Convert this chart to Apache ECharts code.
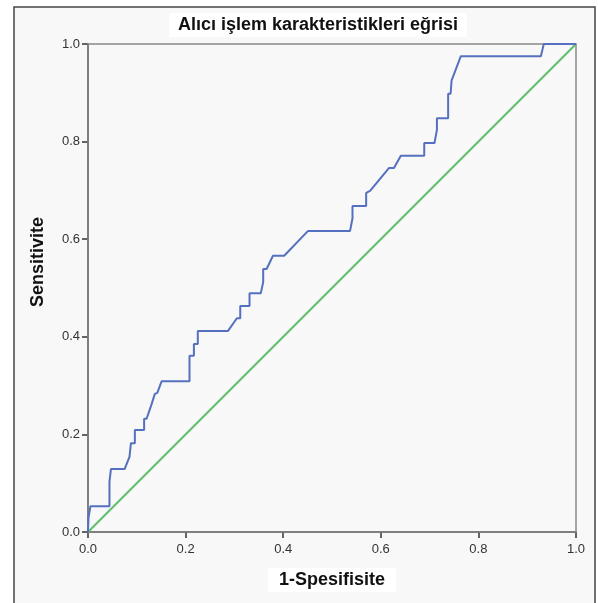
<!DOCTYPE html>
<html><head><meta charset="utf-8">
<script src="https://cdn.jsdelivr.net/npm/echarts@6/dist/echarts.min.js"></script>
<style>html,body{margin:0;padding:0;background:#fff;}#c{width:598px;height:603px;}</style>
</head><body><div id="c"></div>
<script>
const titleText = 'Alıcı işlem karakteristikleri eğrisi';
const xAxisName = '1-Spesifisite';
const yAxisName = 'Sensitivite';
const tickValues = [0, 0.2, 0.4, 0.6, 0.8, 1.0];
const rocX = [0,0.001,0.005,0.005,0.044,0.044,0.047,0.047,0.075,0.085,0.088,0.088,0.096,0.096,0.115,0.115,0.120,0.129,0.137,0.142,0.151,0.208,0.208,0.217,0.217,0.225,0.225,0.287,0.305,0.312,0.312,0.331,0.331,0.354,0.359,0.359,0.366,0.379,0.402,0.451,0.537,0.542,0.542,0.570,0.570,0.578,0.617,0.627,0.641,0.689,0.689,0.710,0.715,0.715,0.738,0.738,0.743,0.745,0.764,0.928,0.934,1];
const rocY = [0,0.029,0.033,0.053,0.053,0.103,0.107,0.129,0.129,0.154,0.156,0.182,0.182,0.209,0.209,0.232,0.232,0.258,0.283,0.285,0.309,0.309,0.361,0.361,0.385,0.385,0.412,0.412,0.438,0.438,0.463,0.463,0.489,0.489,0.512,0.539,0.539,0.566,0.566,0.617,0.617,0.643,0.668,0.668,0.695,0.699,0.746,0.746,0.771,0.771,0.797,0.797,0.824,0.848,0.848,0.898,0.898,0.925,0.975,0.975,1,1];
const refX = [0, 1];
const refY = [0, 1];

const chart = echarts.init(document.getElementById('c'), null, {renderer: 'canvas'});
const font = 'Liberation Sans, Arial, sans-serif';
const axisCommon = {
  type: 'value', min: 0, max: 1, interval: 0.2,
  axisLine: {show: true, lineStyle: {color: '#333', width: 1.5}},
  axisTick: {show: true, length: 6, lineStyle: {color: '#333', width: 1.5}},
  axisLabel: {color: '#333', fontSize: 13, fontFamily: font, formatter: v => v.toFixed(1)},
  splitLine: {show: false}
};
chart.setOption({
  backgroundColor: '#fff',
  animation: false,
  graphic: [
    {type: 'rect', shape: {x: 14, y: 7, width: 581, height: 620}, style: {fill: '#f8f8f8', stroke: '#444', lineWidth: 1.5}, z: -10},
    {type: 'rect', shape: {x: 88, y: 44, width: 488, height: 488}, style: {fill: 'none', stroke: '#888', lineWidth: 1.5}, z: 1},
    {type: 'text', x: 318, y: 25, style: {text: titleText, font: 'bold 18px ' + font, fill: '#111', align: 'center', verticalAlign: 'middle', backgroundColor: '#fff', padding: [3, 9, 3, 9]}, z: 5},
    {type: 'text', x: 332, y: 580, style: {text: xAxisName, font: 'bold 18px ' + font, fill: '#111', align: 'center', verticalAlign: 'middle', backgroundColor: '#fff', padding: [3, 11, 3, 11]}, z: 5},
    {type: 'text', x: 38, y: 262, rotation: Math.PI / 2, style: {text: yAxisName, font: 'bold 18px ' + font, fill: '#111', align: 'center', verticalAlign: 'middle'}, z: 5}
  ],
  grid: {left: 88, right: 22, top: 44, bottom: 71, containLabel: false},
  xAxis: Object.assign({}, axisCommon, {axisLabel: Object.assign({}, axisCommon.axisLabel, {margin: 11})}),
  yAxis: Object.assign({}, axisCommon, {axisLabel: Object.assign({}, axisCommon.axisLabel, {margin: 8})}),
  series: [
    {type: 'line', data: refX.map((x, i) => [x, refY[i]]), symbol: 'none', lineStyle: {color: '#5cbf6a', width: 2}, z: 3},
    {type: 'line', data: rocX.map((x, i) => [x, rocY[i]]), symbol: 'none', lineStyle: {color: '#5570c0', width: 2}, z: 4}
  ]
});
</script></body></html>
